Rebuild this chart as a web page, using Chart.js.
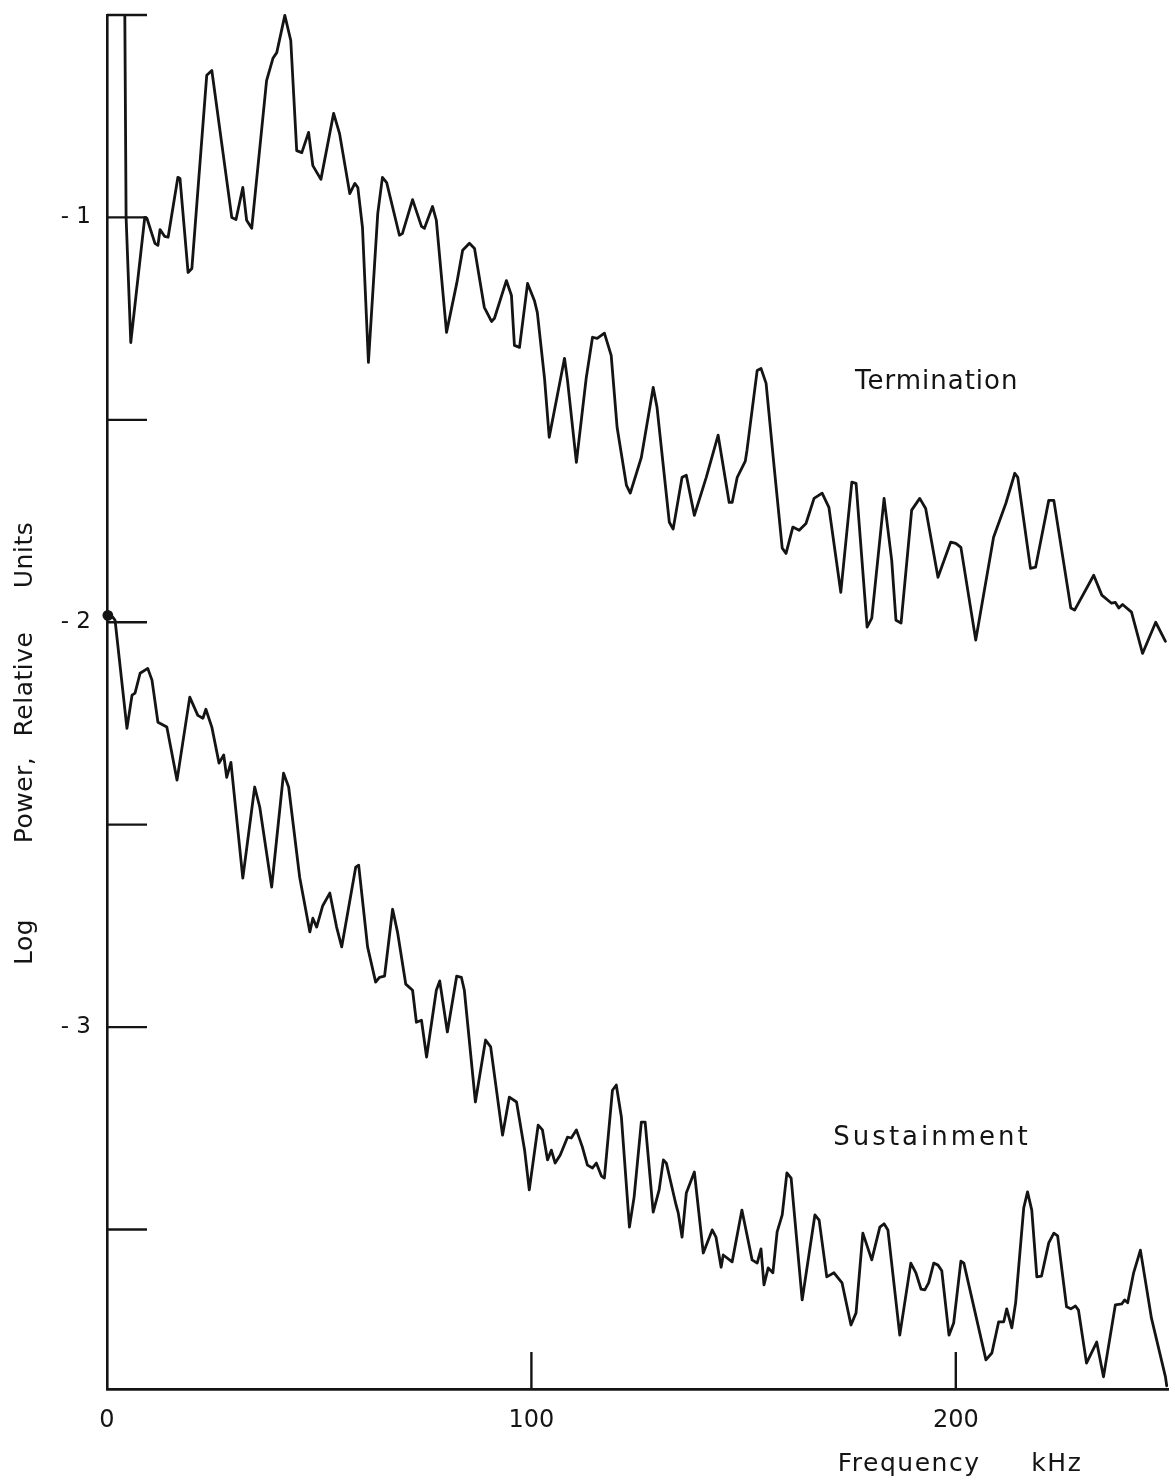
<!DOCTYPE html>
<html>
<head>
<meta charset="utf-8">
<title>Log Power spectra</title>
<script src="https://cdn.jsdelivr.net/npm/chart.js@4.4.1/dist/chart.umd.min.js"></script>
<style>
  html, body { margin: 0; padding: 0; background: #fff; }
  #wrap { width: 1175px; height: 1482px; }
</style>
</head>
<body>
<div id="wrap"><canvas id="chart" width="1175" height="1482"></canvas></div>
<script>
// frequency in kHz, log power in relative units
const termFreq = [
  4.2, 4.5, 5.6, 8.9, 9.4, 11.3, 12.0, 12.5, 13.6, 14.4,
  16.7, 17.2, 19.1, 20.0, 23.5, 24.7, 29.4, 30.4, 32.0, 32.9,
  34.1, 37.6, 39.1, 40.0, 41.9, 43.3, 44.7, 45.9, 47.5, 48.5,
  50.4, 53.4, 54.8, 57.2, 58.4, 59.1, 60.2, 61.6, 63.8, 64.9,
  65.9, 68.9, 69.6, 72.0, 74.1, 74.8, 76.7, 77.6, 80.0, 82.4,
  83.8, 85.4, 86.6, 88.9, 90.6, 91.3, 94.1, 95.3, 96.0, 97.2,
  99.1, 100.7, 101.4, 103.1, 104.2, 107.8, 108.5, 110.6, 112.9, 114.4,
  115.5, 117.2, 118.8, 120.2, 122.4, 123.3, 125.9, 128.7, 129.6, 132.5,
  133.4, 135.5, 136.5, 138.4, 141.2, 144.0, 146.6, 147.3, 148.5, 150.4,
  150.8, 153.2, 154.1, 155.3, 157.2, 159.1, 160.0, 161.6, 163.1, 164.7,
  166.6, 168.5, 170.1, 172.9, 175.5, 176.5, 179.1, 180.2, 183.1, 184.9,
  185.9, 187.1, 189.6, 191.5, 192.9, 195.8, 198.8, 200.0, 201.2, 204.7,
  208.9, 211.8, 213.9, 214.6, 217.6, 218.8, 221.9, 223.1, 227.1, 228.0,
  232.5, 234.4, 236.7, 237.6, 238.4, 239.3, 241.4, 244.0, 247.1, 249.4
];
const termPower = [
  -0.501, -1.000, -1.309, -1.000, -1.002, -1.064, -1.069, -1.030, -1.047, -1.049,
  -0.901, -0.904, -1.136, -1.126, -0.649, -0.637, -1.000, -1.005, -0.926, -1.007,
  -1.027, -0.662, -0.607, -0.593, -0.501, -0.563, -0.835, -0.840, -0.790, -0.872,
  -0.906, -0.743, -0.793, -0.941, -0.916, -0.926, -1.025, -1.358, -0.990, -0.901,
  -0.914, -1.044, -1.040, -0.956, -1.022, -1.027, -0.973, -1.007, -1.284, -1.163,
  -1.081, -1.064, -1.077, -1.222, -1.257, -1.249, -1.156, -1.193, -1.316, -1.321,
  -1.163, -1.205, -1.235, -1.398, -1.543, -1.348, -1.402, -1.605, -1.398, -1.296,
  -1.299, -1.286, -1.341, -1.519, -1.662, -1.681, -1.593, -1.420, -1.469, -1.753,
  -1.770, -1.642, -1.637, -1.736, -1.642, -1.538, -1.704, -1.704, -1.642, -1.602,
  -1.575, -1.378, -1.373, -1.410, -1.617, -1.817, -1.830, -1.765, -1.773, -1.756,
  -1.694, -1.681, -1.716, -1.926, -1.654, -1.657, -2.012, -1.990, -1.694, -1.847,
  -1.995, -2.002, -1.723, -1.694, -1.719, -1.889, -1.802, -1.805, -1.815, -2.044,
  -1.790, -1.706, -1.632, -1.642, -1.867, -1.864, -1.699, -1.699, -1.965, -1.970,
  -1.884, -1.933, -1.953, -1.951, -1.965, -1.956, -1.975, -2.077, -2.000, -2.047
];

const sustFreq = [
  0.2, 1.4, 1.9, 4.7, 5.9, 6.6, 7.8, 9.6, 10.6, 12.0,
  14.1, 16.5, 19.5, 21.4, 22.6, 23.3, 24.7, 26.4, 27.5, 28.2,
  29.2, 32.0, 34.8, 36.0, 38.8, 41.6, 42.8, 45.4, 47.8, 48.5,
  49.4, 50.8, 52.5, 54.1, 55.3, 58.6, 59.3, 61.4, 63.3, 64.2,
  65.4, 67.3, 68.5, 70.4, 72.0, 72.9, 74.1, 75.3, 77.6, 78.4,
  80.2, 82.4, 83.5, 84.2, 86.8, 89.2, 90.4, 93.2, 94.8, 96.5,
  98.4, 99.5, 101.6, 102.6, 103.8, 104.7, 105.6, 106.8, 108.5, 109.4,
  110.6, 112.0, 113.2, 114.4, 115.3, 116.5, 117.2, 119.1, 120.0, 121.2,
  123.1, 124.2, 125.9, 126.8, 128.7, 130.1, 131.1, 131.8, 134.1, 134.6,
  135.5, 136.5, 138.4, 140.5, 142.6, 143.5, 144.7, 145.2, 147.3, 149.6,
  152.0, 153.2, 154.1, 154.8, 155.8, 156.9, 157.9, 159.1, 160.2, 161.2,
  163.8, 166.8, 167.8, 169.6, 171.3, 173.2, 175.3, 176.5, 178.1, 180.2,
  182.1, 183.1, 184.0, 186.8, 189.4, 190.6, 191.8, 192.7, 193.6, 194.8,
  195.8, 196.7, 198.4, 199.5, 201.2, 201.9, 207.1, 208.5, 210.1, 211.3,
  212.0, 213.2, 214.1, 216.0, 216.9, 217.9, 219.1, 220.2, 221.9, 223.1,
  224.0, 226.1, 227.1, 228.2, 228.9, 230.8, 233.2, 234.8, 237.6, 239.1,
  239.8, 240.5, 241.9, 243.5, 246.1, 249.4, 249.7
];
const sustPower = [
  -1.983, -1.988, -1.995, -2.262, -2.180, -2.175, -2.126, -2.114, -2.143, -2.247,
  -2.259, -2.390, -2.185, -2.230, -2.237, -2.215, -2.259, -2.348, -2.328, -2.383,
  -2.346, -2.632, -2.407, -2.457, -2.654, -2.373, -2.407, -2.630, -2.765, -2.731,
  -2.753, -2.701, -2.669, -2.753, -2.802, -2.605, -2.600, -2.802, -2.889, -2.877,
  -2.874, -2.709, -2.768, -2.894, -2.909, -2.988, -2.983, -3.074, -2.909, -2.886,
  -3.012, -2.874, -2.877, -2.909, -3.185, -3.032, -3.049, -3.267, -3.173, -3.185,
  -3.304, -3.402, -3.242, -3.254, -3.328, -3.304, -3.336, -3.316, -3.272, -3.274,
  -3.254, -3.296, -3.341, -3.348, -3.336, -3.368, -3.373, -3.156, -3.143, -3.222,
  -3.494, -3.420, -3.235, -3.235, -3.457, -3.402, -3.328, -3.336, -3.440, -3.459,
  -3.519, -3.410, -3.358, -3.558, -3.501, -3.519, -3.593, -3.563, -3.580, -3.452,
  -3.575, -3.583, -3.548, -3.637, -3.595, -3.607, -3.506, -3.464, -3.360, -3.373,
  -3.674, -3.464, -3.477, -3.617, -3.607, -3.632, -3.736, -3.706, -3.509, -3.575,
  -3.494, -3.486, -3.501, -3.761, -3.583, -3.607, -3.647, -3.649, -3.632, -3.583,
  -3.588, -3.602, -3.761, -3.731, -3.578, -3.583, -3.822, -3.805, -3.728, -3.728,
  -3.696, -3.743, -3.681, -3.447, -3.407, -3.452, -3.617, -3.615, -3.533, -3.509,
  -3.516, -3.691, -3.696, -3.689, -3.699, -3.830, -3.778, -3.864, -3.686, -3.684,
  -3.674, -3.681, -3.607, -3.551, -3.719, -3.864, -3.886
];

const xTickValues = [0, 100, 200];
const xTickLabels = ['0', '100', '200'];
const yTickValues = [-3.5, -3, -2.5, -2, -1.5, -1, -0.5];
const yTickLabels = ['', '- 3', '', '- 2', '', '- 1', ''];
const yTitleWords = ['Log', 'Power,', 'Relative', 'Units'];

const INK = '#141414';
const FONT = '"DejaVu Sans", sans-serif';

function toPoints(xs, ys) {
  return xs.map((f, i) => ({x: f, y: ys[i]}));
}

// inward tick marks and the hand lettered annotations
const decorations = {
  id: 'decorations',
  afterDraw(chart) {
    const {ctx, chartArea} = chart;
    const x = chart.scales.x, y = chart.scales.y;
    ctx.save();
    ctx.strokeStyle = INK;
    ctx.lineWidth = 2.4;
    yTickValues.forEach(v => {
      const py = y.getPixelForValue(v);
      ctx.beginPath();
      ctx.moveTo(chartArea.left, py);
      ctx.lineTo(chartArea.left + 40, py);
      ctx.stroke();
    });
    xTickValues.filter(v => v > 0).forEach(v => {
      const px = x.getPixelForValue(v);
      ctx.beginPath();
      ctx.moveTo(px, chartArea.bottom);
      ctx.lineTo(px, chartArea.bottom - 37);
      ctx.stroke();
    });

    ctx.fillStyle = INK;
    ctx.textAlign = 'center';
    ctx.textBaseline = 'middle';
    ctx.font = '26px ' + FONT;
    ctx.letterSpacing = '1px';
    ctx.fillText('Termination', x.getPixelForValue(195.5), y.getPixelForValue(-1.407));
    ctx.letterSpacing = '3px';
    ctx.fillText('Sustainment', x.getPixelForValue(194.4), y.getPixelForValue(-3.274));

    ctx.font = '25px ' + FONT;
    ctx.letterSpacing = '1.5px';
    ctx.fillText('Frequency', x.getPixelForValue(189), chartArea.bottom + 75);
    ctx.fillText('kHz', x.getPixelForValue(223.8), chartArea.bottom + 75);

    // rotated axis title, one word at a time along the axis
    ctx.letterSpacing = '0.5px';
    const wordCentres = [942, 800, 684, 555];
    yTitleWords.forEach((w, i) => {
      ctx.save();
      ctx.translate(25, wordCentres[i]);
      ctx.rotate(-Math.PI / 2);
      ctx.fillText(w, 0, 0);
      ctx.restore();
    });
    ctx.restore();
  }
};

new Chart(document.getElementById('chart'), {
  type: 'line',
  data: {
    datasets: [
      {
        label: 'Termination',
        data: toPoints(termFreq, termPower),
        borderColor: INK,
        borderWidth: 2.8,
        borderJoinStyle: 'round',
        borderCapStyle: 'round',
        pointRadius: 0,
        tension: 0,
        clip: false
      },
      {
        label: 'Sustainment',
        data: toPoints(sustFreq, sustPower),
        borderColor: INK,
        backgroundColor: INK,
        borderWidth: 2.8,
        borderJoinStyle: 'round',
        borderCapStyle: 'round',
        pointRadius: ctx => ctx.dataIndex === 0 ? 4 : 0,
        tension: 0,
        clip: false
      }
    ]
  },
  options: {
    responsive: false,
    animation: false,
    devicePixelRatio: 1,
    layout: {padding: {top: 15, right: 7, bottom: 0, left: 0}},
    plugins: {legend: {display: false}, tooltip: {enabled: false}},
    scales: {
      x: {
        type: 'linear',
        min: 0,
        max: 250,
        afterBuildTicks: s => { s.ticks = xTickValues.map(v => ({value: v})); },
        afterFit: s => { s.height = 93; s.paddingLeft = 0; s.paddingRight = 0; },
        grid: {display: false, drawTicks: false},
        border: {display: true, color: INK, width: 2.8},
        ticks: {
          color: INK,
          font: {family: FONT, size: 24},
          padding: 17,
          maxRotation: 0,
          autoSkip: false,
          callback: (v, i) => xTickLabels[i]
        }
      },
      y: {
        type: 'linear',
        min: -3.894,
        max: -0.5,
        afterBuildTicks: s => { s.ticks = yTickValues.map(v => ({value: v})); },
        afterFit: s => { s.width = 107; s.paddingTop = 0; s.paddingBottom = 0; },
        grid: {display: false, drawTicks: false},
        border: {display: true, color: INK, width: 2.6},
        ticks: {
          color: INK,
          font: {family: FONT, size: 23},
          padding: 16,
          autoSkip: false,
          callback: (v, i) => yTickLabels[i]
        }
      }
    }
  },
  plugins: [decorations]
});
</script>
</body>
</html>
